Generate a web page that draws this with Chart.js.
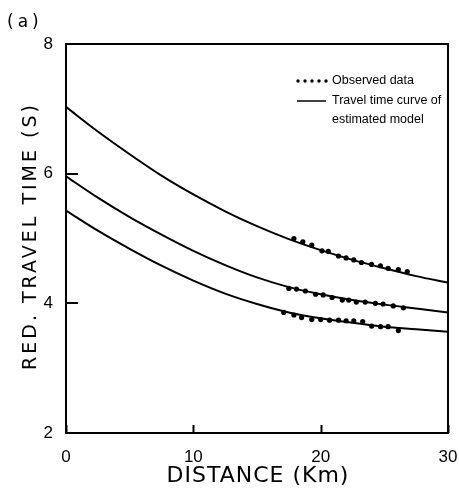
<!DOCTYPE html>
<html>
<head>
<meta charset="utf-8">
<script src="https://cdn.jsdelivr.net/npm/chart.js@4.4.1/dist/chart.umd.min.js"></script>
<style>
html,body{margin:0;padding:0;background:#fff;}
canvas{display:block;}
</style>
</head>
<body>
<canvas id="chart" width="459" height="496"></canvas>
<script>
// model curves (every 2.5 km)
const curveX   = [0, 2.5, 5, 7.5, 10, 12.5, 15, 17.5, 20, 22.5, 25, 27.5, 30];
const curveTop = [7.03, 6.65, 6.30, 5.97, 5.68, 5.42, 5.19, 4.99, 4.82, 4.67, 4.54, 4.42, 4.32];
const curveMid = [5.96, 5.63, 5.33, 5.06, 4.81, 4.59, 4.40, 4.25, 4.14, 4.05, 3.98, 3.92, 3.86];
const curveLow = [5.43, 5.12, 4.84, 4.58, 4.35, 4.15, 3.99, 3.86, 3.77, 3.70, 3.64, 3.60, 3.56];

// observed travel times
const obsTopX = [17.9, 18.6, 19.3, 20.1, 20.6, 21.4, 22.0, 22.6, 23.2, 24.0, 24.7, 25.3, 26.1, 26.8];
const obsTopY = [5.00, 4.95, 4.90, 4.81, 4.80, 4.73, 4.70, 4.67, 4.63, 4.60, 4.58, 4.54, 4.52, 4.49];
const obsMidX = [17.5, 18.1, 18.8, 19.6, 20.2, 20.9, 21.7, 22.2, 22.8, 23.5, 24.3, 24.9, 25.7, 26.5];
const obsMidY = [4.23, 4.22, 4.19, 4.14, 4.13, 4.09, 4.05, 4.05, 4.02, 4.02, 4.00, 3.99, 3.96, 3.93];
const obsLowX = [17.1, 17.9, 18.5, 19.3, 20.0, 20.7, 21.4, 22.0, 22.6, 23.3, 24.0, 24.7, 25.3, 26.1];
const obsLowY = [3.86, 3.82, 3.78, 3.75, 3.75, 3.74, 3.74, 3.73, 3.73, 3.72, 3.65, 3.64, 3.64, 3.58];

const xTicks = [0, 10, 20, 30];
const yTicks = [2, 4, 6, 8];

const pts = (xs, ys) => xs.map((x, i) => ({x: x, y: ys[i]}));

function curveSet(ys){
  return {type:'line', data: pts(curveX, ys), borderColor:'#000', borderWidth:2,
    pointRadius:0, cubicInterpolationMode:'monotone', fill:false};
}
function obsSet(xs, ys){
  return {type:'scatter', data: pts(xs, ys), backgroundColor:'#000', borderWidth:0,
    pointRadius:2.6, showLine:false};
}

// box round the plot, inward ticks, hand lettered texts
const frame = {
  id:'frame',
  afterDatasetsDraw(chart){
    const {ctx, chartArea:a, scales} = chart;
    ctx.save();
    ctx.strokeStyle = '#000';
    ctx.lineWidth = 2;
    ctx.strokeRect(a.left, a.top, a.right - a.left, a.bottom - a.top);
    ctx.beginPath();
    for (const v of xTicks) {
      const px = Math.round(scales.x.getPixelForValue(v)) + 0.5;
      ctx.moveTo(px, a.bottom);
      ctx.lineTo(px, a.bottom - 8);
    }
    for (const v of yTicks) {
      const py = Math.round(scales.y.getPixelForValue(v));
      ctx.moveTo(a.left, py);
      ctx.lineTo(a.left + 12, py);
    }
    ctx.stroke();
    ctx.restore();
  },
  afterDraw(chart){
    const ctx = chart.ctx;
    ctx.save();
    ctx.fillStyle = '#000';
    ctx.strokeStyle = '#000';

    ctx.font = '17px "DejaVu Sans"';
    ctx.letterSpacing = '4px';
    ctx.textBaseline = 'alphabetic';
    ctx.textAlign = 'left';
    ctx.fillText('(a)', 7, 27);

    // axis titles
    ctx.textAlign = 'center';
    ctx.textBaseline = 'middle';
    ctx.font = '22px "DejaVu Sans"';
    ctx.letterSpacing = '1px';
    ctx.fillText('DISTANCE (Km)', 258, 476);

    ctx.save();
    ctx.translate(31, 236);
    ctx.rotate(-Math.PI / 2);
    ctx.font = '19px "DejaVu Sans"';
    ctx.letterSpacing = '3px';
    ctx.fillText('RED. TRAVEL TIME (S)', 0, 0);
    ctx.restore();

    // legend
    ctx.letterSpacing = '0px';
    ctx.textAlign = 'left';
    ctx.font = '12.5px "Liberation Sans"';
    for (let i = 0; i < 5; i++) {
      ctx.beginPath();
      ctx.arc(298 + i * 7, 81, 1.7, 0, Math.PI * 2);
      ctx.fill();
    }
    ctx.fillText('Observed data', 332, 81);
    ctx.lineWidth = 1.5;
    ctx.beginPath();
    ctx.moveTo(297, 101);
    ctx.lineTo(326, 101);
    ctx.stroke();
    ctx.fillText('Travel time curve of', 332, 101);
    ctx.fillText('estimated model', 332, 120);
    ctx.restore();
  }
};

const tickFont = {family:'Liberation Sans', size:17};

new Chart(document.getElementById('chart'), {
  type:'scatter',
  data:{
    datasets:[
      curveSet(curveTop), curveSet(curveMid), curveSet(curveLow),
      obsSet(obsTopX, obsTopY), obsSet(obsMidX, obsMidY), obsSet(obsLowX, obsLowY)
    ]
  },
  options:{
    responsive:false,
    animation:false,
    devicePixelRatio:1,
    layout:{padding:{left:0, right:11, top:44, bottom:0}},
    plugins:{legend:{display:false}, tooltip:{enabled:false}},
    scales:{
      x:{
        type:'linear', min:0, max:30,
        afterBuildTicks(s){ s.ticks = xTicks.map(v => ({value:v})); },
        ticks:{color:'#000', font:tickFont, padding:14, maxRotation:0},
        grid:{drawOnChartArea:false, drawTicks:false},
        border:{color:'#000', width:2},
        afterFit(s){ s.height = 63; s.paddingLeft = 0; s.paddingRight = 0; }
      },
      y:{
        type:'linear', min:2, max:8,
        afterBuildTicks(s){ s.ticks = yTicks.map(v => ({value:v})); },
        ticks:{color:'#000', font:tickFont, padding:13},
        grid:{drawOnChartArea:false, drawTicks:false},
        border:{color:'#000', width:2},
        afterFit(s){ s.width = 66; s.paddingTop = 0; s.paddingBottom = 0; }
      }
    }
  },
  plugins:[frame]
});
</script>
</body>
</html>
